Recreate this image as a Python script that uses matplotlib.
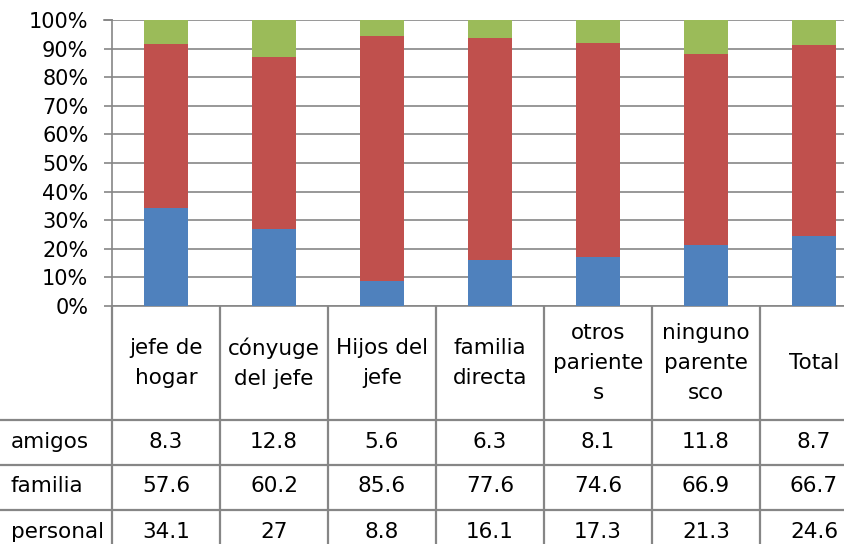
import matplotlib.pyplot as plt
import numpy as np

# data (percent per category)
categorias = ["jefe de\nhogar", "cónyuge\ndel jefe", "Hijos del\njefe", "familia\ndirecta",
              "otros\npariente\ns", "ninguno\nparente\nsco", "Total"]
series = ["amigos", "familia", "personal"]
amigos = [8.3, 12.8, 5.6, 6.3, 8.1, 11.8, 8.7]
familia = [57.6, 60.2, 85.6, 77.6, 74.6, 66.9, 66.7]
personal = [34.1, 27, 8.8, 16.1, 17.3, 21.3, 24.6]
etiquetas_pct = [f"{v}%" for v in range(0, 101, 10)]

AZUL, ROJO, VERDE = "#4F81BD", "#C0504D", "#9BBB59"
GRIS = "#868686"
FUENTE_EJE = 15
FUENTE_TABLA = 15.5

plt.rcParams["font.family"] = ["DejaVu Sans"]

W, H = 845, 544
fig = plt.figure(figsize=(W / 100, H / 100), dpi=100)


def caja(x0, y0, w, h):
    """Rectángulo en píxeles (origen arriba a la izquierda) -> coordenadas de figura."""
    return [x0 / W, 1 - (y0 + h) / H, w / W, h / H]


# --- barras apiladas al 100% ---
ax = fig.add_axes(caja(112, 20, 756, 286))
x = np.arange(len(categorias))
p = np.array(personal)
f = np.array(familia)
a = np.array(amigos)
tot = p + f + a
p, f, a = 100 * p / tot, 100 * f / tot, 100 * a / tot
ancho = 0.41
ax.bar(x, p, ancho, color=AZUL, zorder=3)
ax.bar(x, f, ancho, bottom=p, color=ROJO, zorder=3)
ax.bar(x, a, ancho, bottom=p + f, color=VERDE, zorder=3)

ax.set_xlim(-0.5, len(categorias) - 0.5)
ax.set_ylim(0, 100)
ax.set_yticks(range(0, 101, 10))
ax.set_yticklabels(etiquetas_pct, fontsize=FUENTE_EJE)
ax.set_xticks([])
ax.grid(axis="y", color=GRIS, linewidth=1.2, zorder=0)
ax.set_axisbelow(True)
for lado in ["top", "right"]:
    ax.spines[lado].set_visible(False)
for lado in ["left", "bottom"]:
    ax.spines[lado].set_color(GRIS)
    ax.spines[lado].set_linewidth(1.2)
ax.tick_params(axis="y", length=6, width=1.2, color=GRIS, pad=11)
# línea del 100% hasta la marca
ax.plot([-0.5 - 8 / 108, -0.5], [100, 100], color=GRIS, lw=1.2, clip_on=False)

# --- tabla de datos ---
tab = fig.add_axes(caja(0, 306, 868, 238))
tab.set_xlim(-0.5 - 112 / 108, len(categorias) - 0.5)
tab.set_ylim(238, 0)
tab.axis("off")

alto_cab = 114
alto_fila = 45
for i in range(len(categorias) + 1):
    tab.plot([i - 0.5, i - 0.5], [0, 238], color=GRIS, lw=1.6)
for j in range(len(series)):
    y = alto_cab + j * alto_fila
    tab.plot([-0.5 - 112 / 108, len(categorias) - 0.5], [y, y], color=GRIS, lw=1.6)

for i, cat in enumerate(categorias):
    tab.text(i, alto_cab / 2, cat, ha="center", va="center", fontsize=FUENTE_TABLA,
             linespacing=1.6)

for j, (nombre, vals) in enumerate(zip(series, [amigos, familia, personal])):
    yc = alto_cab + (j + 0.5) * alto_fila - 1
    tab.text(-0.5 - 101 / 108, yc, nombre, ha="left", va="center", fontsize=FUENTE_TABLA)
    for i, v in enumerate(vals):
        tab.text(i, yc, f"{v:g}", ha="center", va="center", fontsize=FUENTE_TABLA)

fig.savefig("out.png", dpi=100)
